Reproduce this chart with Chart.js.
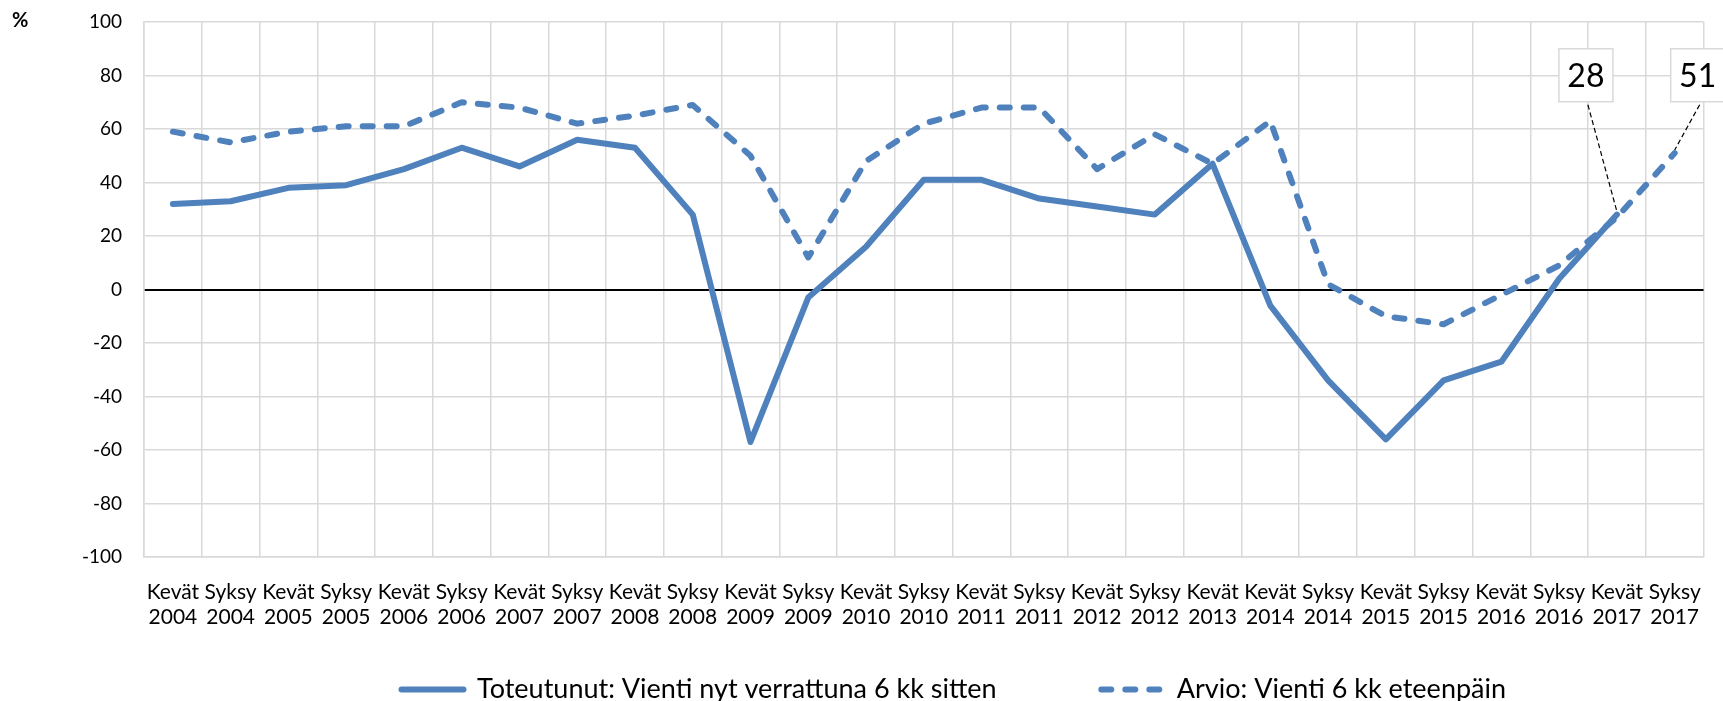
<!DOCTYPE html>
<html>
<head>
<meta charset="utf-8">
<script src="https://cdn.jsdelivr.net/npm/chart.js@4"></script>
<style>
  html, body { margin: 0; padding: 0; background: #fff; }
  #wrap { width: 1723px; height: 701px; }
</style>
</head>
<body>
<div id="wrap"><canvas id="grafica"></canvas></div>
<script>
// kaudet ja vuodet (x-akseli)
const kaudet = ["Kevät","Syksy","Kevät","Syksy","Kevät","Syksy","Kevät","Syksy","Kevät","Syksy",
                "Kevät","Syksy","Kevät","Syksy","Kevät","Syksy","Kevät","Syksy","Kevät","Kevät",
                "Syksy","Kevät","Syksy","Kevät","Syksy","Kevät","Syksy"];
const vuodet = ["2004","2004","2005","2005","2006","2006","2007","2007","2008","2008",
                "2009","2009","2010","2010","2011","2011","2012","2012","2013","2014",
                "2014","2015","2015","2016","2016","2017","2017"];

// sarjat
const toteutunut = [32,33,38,39,45,53,46,56,53,28,-57,-3,16,41,41,34,31,28,47,-6,-34,-56,-34,-27,4,28,null];
const arvio = [59,55,59,61,61,70,68,62,65,69,50,12,48,62,68,68,45,58,47,63,2,-10,-13,-2,9,27,51];

const yTicks = [-100,-80,-60,-40,-20,0,20,40,60,80,100];

// arvolaatikot: sarja, indeksi, teksti
const merkinnat = [
  {sarja: 0, i: 25, teksti: "28", dx: -31},
  {sarja: 1, i: 26, teksti: "51", dx: 23}
];

const sininen = "#4f81bd";
const fontti = "Lato, 'Open Sans', sans-serif";

const labels = kaudet.map((k, i) => [k, vuodet[i]]);

const merkintaPlugin = {
  id: "merkinnat",
  afterLayout(chart) {
    // legenda hieman alemmas ja oikealle
    const lg = chart.legend;
    lg.top += 12; lg.bottom += 12;
    lg.left += 30; lg.right += 30;
  },
  afterDatasetsDraw(chart) {
    const ctx = chart.ctx;
    const y = chart.scales.y;
    merkinnat.forEach(m => {
      const p = chart.getDatasetMeta(m.sarja).data[m.i];
      const w = 54, h = 53;
      const cx = p.x + m.dx;
      const top = y.getPixelForValue(90);
      ctx.save();
      ctx.strokeStyle = "#000";
      ctx.lineWidth = 1.2;
      ctx.setLineDash([5, 3]);
      ctx.beginPath();
      ctx.moveTo(cx + 2, top + h + 3);
      ctx.lineTo(p.x, p.y - 3);
      ctx.stroke();
      ctx.setLineDash([]);
      ctx.fillStyle = "#fff";
      ctx.fillRect(cx - w / 2, top, w, h);
      ctx.strokeStyle = "#d9d9d9";
      ctx.lineWidth = 1.5;
      ctx.strokeRect(cx - w / 2, top, w, h);
      ctx.fillStyle = "#000";
      ctx.font = "32px " + fontti;
      ctx.textAlign = "center";
      ctx.textBaseline = "middle";
      ctx.fillText(m.teksti, cx, top + h / 2 + 1);
      ctx.restore();
    });
    // akselin yksikkö
    ctx.save();
    ctx.fillStyle = "#000";
    ctx.font = "bold 20px " + fontti;
    ctx.textAlign = "left";
    ctx.textBaseline = "middle";
    ctx.fillText("%", 12, chart.chartArea.top - 1);
    ctx.restore();
  }
};

Chart.defaults.font.family = fontti;
Chart.defaults.color = "#000";

const grafica = document.getElementById('grafica');
var chart = new Chart(grafica, {
  type: "line",
  data: {
    labels: labels,
    datasets: [
      {
        label: "Toteutunut: Vienti nyt verrattuna 6 kk sitten",
        data: toteutunut,
        borderColor: sininen,
        backgroundColor: sininen,
        borderWidth: 6,
        borderJoinStyle: "round",
        borderCapStyle: "round",
        pointRadius: 0,
        tension: 0,
        spanGaps: false
      },
      {
        label: "Arvio: Vienti 6 kk eteenpäin",
        data: arvio,
        borderColor: sininen,
        backgroundColor: sininen,
        borderWidth: 6,
        borderDash: [10, 14],
        borderJoinStyle: "round",
        borderCapStyle: "round",
        pointRadius: 0,
        tension: 0
      }
    ]
  },
  options: {
    responsive: true,
    maintainAspectRatio: false,
    animation: false,
    layout: { padding: { top: 22, right: 16, left: 0, bottom: 0 } },
    plugins: {
      legend: {
        position: "bottom",
        fullSize: false,
        labels: {
          usePointStyle: true,
          pointStyle: "line",
          pointStyleWidth: 62,
          padding: 0,
          font: { size: 27 },
          color: "#000",
          generateLabels(chart) {
            const items = Chart.defaults.plugins.legend.labels.generateLabels(chart);
            items.forEach((it, i) => {
              const ds = chart.data.datasets[i];
              it.lineDash = ds.borderDash || [];
              it.lineWidth = 6;
              it.lineCap = "round";
              it.strokeStyle = sininen;
              it.pointStyle = "line";
              if (i === 0) it.text += "\u2003\u2003\u2003\u2002\u2002\u2002\u2009";
            });
            return items;
          }
        }
      },
      tooltip: { enabled: false }
    },
    scales: {
      x: {
        offset: true,
        grid: { offset: true, color: "#d9d9d9", lineWidth: 1.5, drawTicks: false },
        border: { color: "#d9d9d9", width: 1.5 },
        ticks: { autoSkip: false, maxRotation: 0, padding: 22, font: { size: 21, lineHeight: 1.22 }, color: "#000" },
        afterFit(scale) { scale.height = 107; }
      },
      y: {
        min: -100,
        max: 100,
        afterBuildTicks(scale) { scale.ticks = yTicks.map(v => ({ value: v })); },
        grid: {
          color: c => c.tick && c.tick.value === 0 ? "#000" : "#d9d9d9",
          lineWidth: c => c.tick && c.tick.value === 0 ? 2 : 1.5,
          drawTicks: false
        },
        border: { color: "#d9d9d9", width: 1.5 },
        ticks: { padding: 22, font: { size: 19 }, color: "#000" },
        afterFit(scale) {
          scale.width = 144;
          scale.paddingTop = 10;
          scale.paddingBottom = 10;
        }
      }
    }
  },
  plugins: [merkintaPlugin]
});
</script>
</body>
</html>
